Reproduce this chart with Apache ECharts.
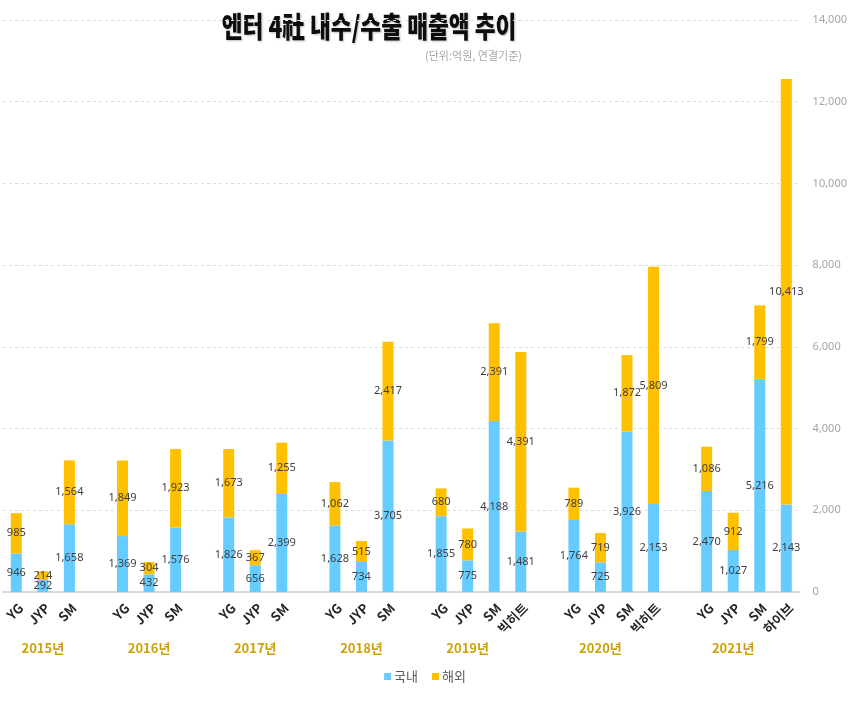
<!DOCTYPE html>
<html>
<head>
<meta charset="utf-8">
<script src="https://cdn.jsdelivr.net/npm/echarts@6/dist/echarts.min.js"></script>
<style>
html,body{margin:0;padding:0;background:#fff;}
#chart{width:850px;height:702px;}
</style>
</head>
<body>
<div id="chart"></div>
<script>
// 30 slots: companies per year, '' = spacer between years
const categories = ['YG','JYP','SM','',
  'YG','JYP','SM','',
  'YG','JYP','SM','',
  'YG','JYP','SM','',
  'YG','JYP','SM','빅히트','',
  'YG','JYP','SM','빅히트','',
  'YG','JYP','SM','하이브'];
const yearLabels = ['','2015년','','',
  '','2016년','','',
  '','2017년','','',
  '','2018년','','',
  '','2019년','','','',
  '','2020년','','','',
  '','2021년','',''];
const domestic = [946,292,1658,'-',
  1369,432,1576,'-',
  1826,656,2399,'-',
  1628,734,3705,'-',
  1855,775,4188,1481,'-',
  1764,725,3926,2153,'-',
  2470,1027,5216,2143];
const overseas = [985,214,1564,'-',
  1849,304,1923,'-',
  1673,367,1255,'-',
  1062,515,2417,'-',
  680,780,2391,4391,'-',
  789,719,1872,5809,'-',
  1086,912,1799,10413];
const yTicks = {min:0, max:14000, interval:2000};

const fmt = v => Number(v).toLocaleString('en-US');
const chart = echarts.init(document.getElementById('chart'));
const labelCfg = {
  show:true, position:'inside', color:'#404040', fontSize:11,
  fontFamily:'Noto Sans', formatter:p => fmt(p.value)
};
chart.setOption({
  animation:false,
  backgroundColor:'#ffffff',
  graphic:[{
    type:'text', x:369, y:27, scaleX:0.78, scaleY:1,
    style:{
      text:'엔터 4社 내수/수출 매출액 추이',
      x:0, y:0, textAlign:'center', textVerticalAlign:'middle',
      fontSize:29, fontWeight:900, fill:'#0d0d0d', fontFamily:'Noto Sans CJK KR',
      textShadowColor:'rgba(0,0,0,0.25)', textShadowBlur:2, textShadowOffsetX:1, textShadowOffsetY:1
    }
  }],
  title:[{
    text:'(단위:억원, 연결기준)',
    left:517, top:45, textAlign:'right',
    textStyle:{fontSize:11, fontWeight:'normal', color:'#A6A6A6', fontFamily:'Noto Sans CJK KR'}
  }],
  legend:{
    bottom:14, left:'center', icon:'rect', itemWidth:7, itemHeight:7, itemGap:14,
    textStyle:{fontSize:13, color:'#595959', fontFamily:'Noto Sans CJK KR', padding:[0,0,0,-2]},
    data:['국내','해외']
  },
  grid:{left:3, right:45, top:20, bottom:110},
  xAxis:[{
    type:'category', data:categories,
    axisLine:{lineStyle:{color:'#D9D9D9', width:2}},
    axisTick:{show:false},
    axisLabel:{interval:0, rotate:45, color:'#262626', fontSize:13, fontWeight:'bold',
      fontFamily:'Noto Sans CJK KR', margin:9, verticalAlign:'top'}
  },{
    type:'category', data:yearLabels, position:'bottom', offset:50,
    axisLine:{show:false}, axisTick:{show:false},
    axisLabel:{interval:0, color:'#CFA00A', fontSize:13, fontWeight:'bold',
      fontFamily:'Noto Sans CJK KR', margin:0}
  }],
  yAxis:{
    type:'value', position:'right', min:yTicks.min, max:yTicks.max, interval:yTicks.interval,
    axisLine:{show:false}, axisTick:{show:false},
    axisLabel:{color:'#A6A6A6', fontSize:11, fontFamily:'Noto Sans', margin:13, formatter:fmt},
    splitLine:{lineStyle:{color:'#D9DCEE', type:[3,3], width:1}}
  },
  series:[{
    name:'국내', type:'bar', stack:'total', barWidth:11, data:domestic,
    itemStyle:{color:'#66CCFF'}, label:labelCfg
  },{
    name:'해외', type:'bar', stack:'total', barWidth:11, data:overseas,
    itemStyle:{color:'#FFC000'}, label:labelCfg
  }]
});
</script>
</body>
</html>
